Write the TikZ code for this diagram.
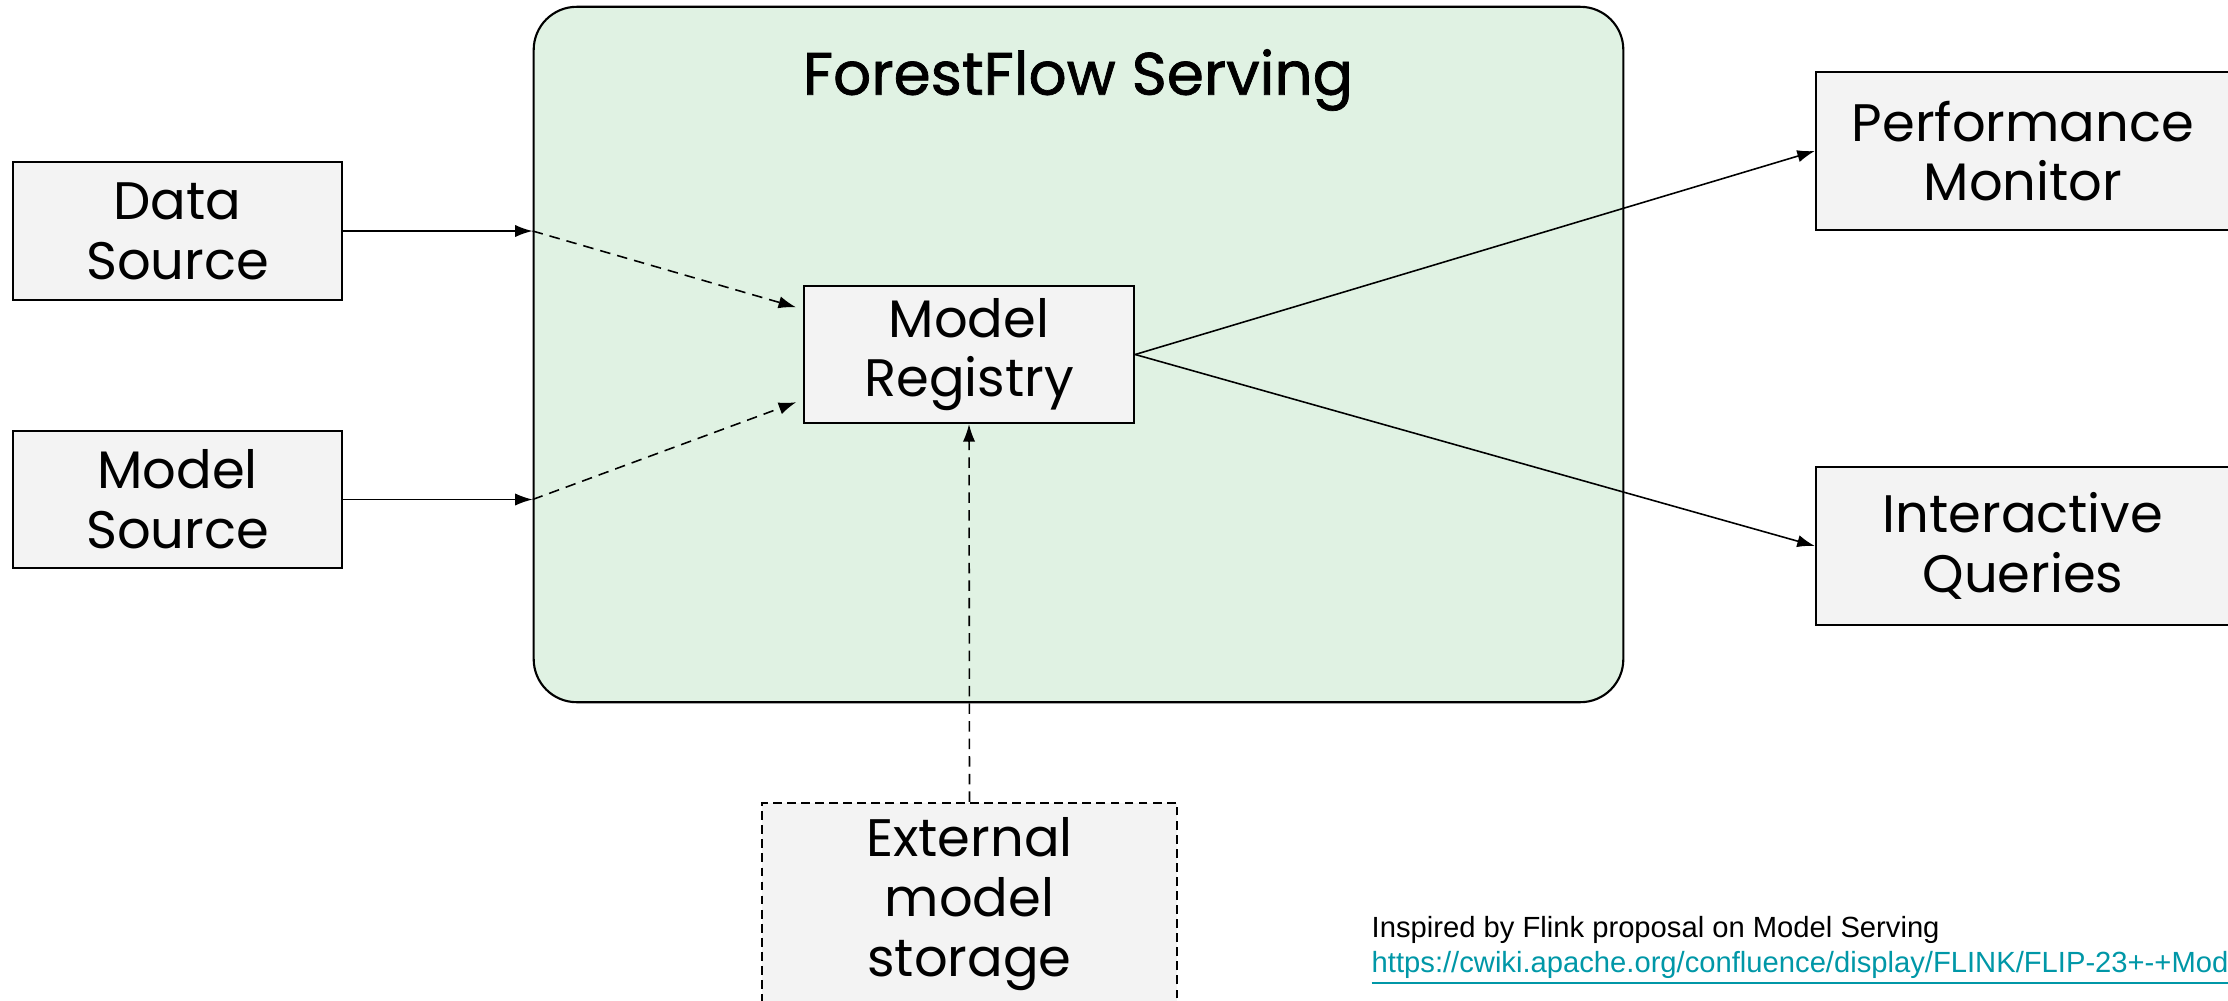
\documentclass[tikz,border=0pt]{standalone}
\usepackage{fontspec}
\setmainfont{Poppins}
\newfontfamily\notefont{Liberation Sans}
\newfontfamily\titlefont[FakeBold=1.2]{Poppins}
\usetikzlibrary{arrows.meta,calc}
\definecolor{panelgreen}{RGB}{224,242,227}
\definecolor{boxgray}{RGB}{243,243,243}
\definecolor{linkteal}{RGB}{0,151,167}
\begin{document}
\begin{tikzpicture}[x=0.01cm,y=-0.01cm,
  box/.style={draw=black, fill=boxgray, line width=0.6pt, align=center,
    font=\fontsize{15}{17}\selectfont, inner sep=0pt},
  conn/.style={line width=0.45pt, -{Latex[length=5pt,width=3.5pt]}},
  dashconn/.style={conn, dash pattern=on 3pt off 2pt},
  notestyle/.style={anchor=base west, inner sep=0pt, font=\notefont\fontsize{8.3}{10}\selectfont}]
\useasboundingbox (0,0) rectangle (2228,1000);
\clip (0,0) rectangle (2228,1000);
% container
\node[draw=black, fill=panelgreen, line width=0.6pt, rounded corners=0.43cm,
  minimum width=10.89cm, minimum height=6.95cm, inner sep=0pt] (serving) at (1078.5,354.5) {};
\node[font=\titlefont\fontsize{17}{20}\selectfont, inner sep=0pt] (title) at (1078,80) {ForestFlow Serving};
% boxes
\node[box, minimum width=3.29cm, minimum height=1.38cm] (data) at (177.5,231) {Data\\Source};
\node[box, minimum width=3.29cm, minimum height=1.37cm] (msrc) at (177.5,499.5) {Model\\Source};
\node[box, minimum width=3.30cm, minimum height=1.37cm] (registry) at (969,354.5) {Model\\Registry};
\node[box, minimum width=4.14cm, minimum height=1.58cm] (perf) at (2023,151) {Performance\\Monitor};
\node[box, minimum width=4.14cm, minimum height=1.58cm] (iq) at (2023,546) {Interactive\\Queries};
\node[box, dash pattern=on 2.5pt off 1.5pt, minimum width=4.15cm, minimum height=2.02cm] (ext) at (969.5,904) {External\\model\\storage};
% connectors
\coordinate (dIn) at (data.east -| serving.west);
\coordinate (mIn) at (msrc.east -| serving.west);
\coordinate (rIn1) at ($(registry.north west)!0.175!(registry.south west)$);
\coordinate (rIn2) at ($(registry.north west)!0.825!(registry.south west)$);
\draw[conn] (data.east) -- (dIn);
\draw[conn] (msrc.east) -- (mIn);
\draw[dashconn, shorten >=2pt] (dIn) -- (rIn1);
\draw[dashconn, shorten >=2pt] (mIn) -- (rIn2);
\draw[conn] (registry.east) -- (perf.west);
\draw[conn] (registry.east) -- (iq.west);
\draw[dashconn] (ext.north) -- (registry.south);
% note
\node[notestyle] (note) at (1371,937) {Inspired by Flink proposal on Model Serving};
\node[notestyle, text=linkteal] (link) at (1371,972) {\underline{https://cwiki.apache.org/confluence/display/FLINK/FLIP-23+-+Model+Serving}};
\end{tikzpicture}
\end{document}
